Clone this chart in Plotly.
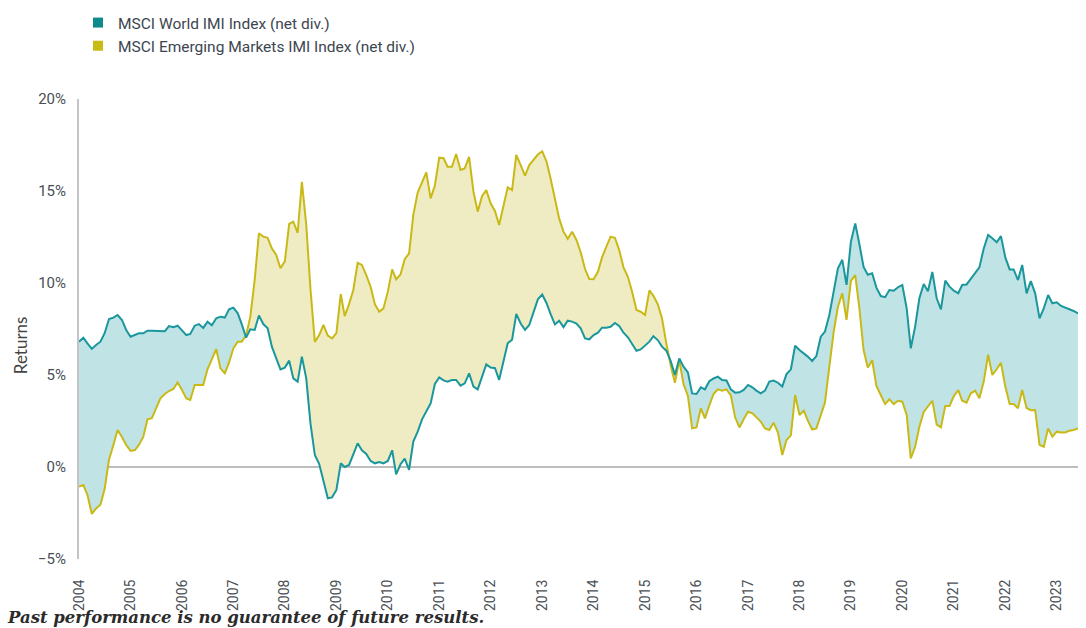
import numpy as np
import pandas as pd
import plotly.graph_objects as go

start_month = "2004-01-01"

world = [
    6.81, 7.03, 6.72, 6.42, 6.63, 6.81, 7.27, 8.04, 8.12, 8.26, 7.99, 7.45,
    7.08, 7.2, 7.27, 7.27, 7.41, 7.41, 7.41, 7.38, 7.38, 7.66, 7.6, 7.68,
    7.45, 7.17, 7.23, 7.68, 7.77, 7.56, 7.9, 7.7, 8.08, 8.17, 8.12, 8.57,
    8.66, 8.35, 7.77, 7.03, 7.48, 7.45, 8.23, 7.77, 7.54, 6.54, 5.9, 5.3,
    5.4, 5.78, 4.82, 4.64, 6.0, 4.82, 2.37, 0.65, 0.16, -0.71, -1.7, -1.65,
    -1.25, 0.2, 0.0, 0.11, 0.65, 1.29, 0.91, 0.71, 0.33, 0.2, 0.27, 0.2,
    0.33, 0.91, -0.4, 0.15, 0.45, -0.15, 1.38, 1.92, 2.59, 3.01, 3.46, 4.51,
    4.87, 4.71, 4.64, 4.73, 4.73, 4.42, 4.55, 5.09, 4.37, 4.22, 4.9, 5.58,
    5.41, 5.37, 4.73, 5.73, 6.72, 6.92, 8.32, 7.8, 7.45, 7.72, 8.48, 9.11,
    9.37, 8.9, 8.32, 7.75, 7.95, 7.6, 7.95, 7.9, 7.8, 7.54, 6.99, 6.94,
    7.17, 7.3, 7.57, 7.57, 7.62, 7.83, 7.66, 7.3, 7.05, 6.69, 6.32, 6.39,
    6.61, 6.81, 7.11, 6.9, 6.54, 6.32, 5.78, 5.0, 5.9, 5.45, 5.14, 4.0,
    3.97, 4.33, 4.22, 4.66, 4.81, 4.91, 4.73, 4.7, 4.22, 4.04, 4.06, 4.19,
    4.46, 4.33, 4.15, 4.0, 4.15, 4.64, 4.7, 4.58, 4.37, 5.05, 5.31, 6.59,
    6.36, 6.18, 6.0, 5.76, 6.03, 7.08, 7.36, 8.26, 9.62, 10.8, 11.26, 9.9,
    12.24, 13.24, 12.16, 10.87, 10.45, 10.53, 9.75, 9.29, 9.23, 9.62, 9.58, 9.77,
    9.89, 8.62, 6.45, 7.63, 9.17, 9.95, 9.55, 10.6, 9.17, 8.57, 10.13, 9.8,
    9.58, 9.44, 9.89, 9.92, 10.22, 10.51, 10.85, 11.88, 12.61, 12.43, 12.21, 12.55,
    11.39, 10.74, 10.74, 10.16, 10.98, 9.44, 10.1, 9.44, 8.08, 8.62, 9.35, 8.9,
    8.95, 8.75, 8.66, 8.6, 8.48, 8.35,
]

emerging = [
    -1.07, -0.98, -1.52, -2.55, -2.25, -2.05, -1.2, 0.4, 1.2, 2.01, 1.63, 1.2,
    0.87, 0.92, 1.2, 1.63, 2.59, 2.65, 3.19, 3.73, 3.97, 4.13, 4.24, 4.6,
    4.18, 3.73, 3.64, 4.46, 4.46, 4.46, 5.31, 5.87, 6.41, 5.36, 5.09, 5.67,
    6.45, 6.81, 6.81, 7.14, 8.17, 10.16, 12.7, 12.52, 12.46, 11.88, 11.53, 10.8,
    11.18, 13.21, 13.33, 12.73, 15.5, 13.17, 9.67, 6.8, 7.17, 7.72, 7.14, 6.99,
    7.28, 9.4, 8.2, 8.85, 9.62, 11.1, 10.98, 10.43, 9.8, 8.85, 8.44, 8.62,
    9.53, 10.74, 10.2, 10.46, 11.29, 11.61, 13.7, 14.91, 15.42, 16.01, 14.6, 15.3,
    16.81, 16.78, 16.32, 16.32, 17.01, 16.14, 16.23, 16.86, 14.96, 13.88, 14.73, 15.05,
    14.33, 13.9, 13.15, 14.15, 15.2, 15.05, 16.96, 16.41, 15.83, 16.41, 16.67, 16.98,
    17.16, 16.59, 15.69, 14.51, 13.51, 12.79, 12.4, 12.79, 12.34, 11.67, 10.76, 10.22,
    10.2, 10.62, 11.38, 11.97, 12.52, 12.46, 11.8, 10.85, 10.34, 9.53, 8.53, 8.44,
    8.26, 9.6, 9.3, 8.85, 8.08, 6.72, 5.54, 4.58, 5.8, 4.5, 3.86, 2.1,
    2.15, 3.19, 2.64, 3.35, 3.97, 4.22, 4.15, 4.22, 3.89, 2.7, 2.15, 2.59,
    3.0, 2.92, 2.7, 2.47, 2.1, 2.01, 2.41, 1.87, 0.65, 1.47, 1.72, 3.91,
    2.83, 3.06, 2.52, 2.04, 2.1, 2.83, 3.5, 5.45, 7.36, 8.71, 9.44, 8.0,
    10.12, 10.43, 8.71, 6.36, 5.4, 5.8, 4.4, 3.91, 3.42, 3.68, 3.42, 3.6,
    3.55, 2.83, 0.47, 1.1, 2.19, 2.99, 3.3, 3.6, 2.3, 2.15, 3.32, 3.32,
    3.86, 4.18, 3.6, 3.49, 4.0, 4.15, 3.73, 4.64, 6.1, 5.0, 5.31, 5.67,
    4.37, 3.42, 3.42, 3.19, 4.19, 3.2, 3.09, 3.1, 1.2, 1.1, 2.1, 1.65,
    1.92, 1.87, 1.88, 1.97, 2.01, 2.1,
]

series_names = ["MSCI World IMI Index (net div.)", "MSCI Emerging Markets IMI Index (net div.)"]
y_ticks = [-5, 0, 5, 10, 15, 20]
y_tick_labels = ["\u22125%", "0%", "5%", "10%", "15%", "20%"]
year_ticks = list(range(2004, 2024))
footnote = "Past performance is no guarantee of future results."
y_title = "Returns"

TEAL = "#1a979c"
TEAL_FILL = "#c0e3e6"
YELLOW = "#c9b917"
YELLOW_FILL = "#efecc3"
TEXT = "#3d4650"

n = len(world)
dates = pd.date_range(start_month, periods=n, freq="MS")
t = dates.astype("int64").to_numpy() / 1e6  # ms
w = np.array(world, dtype=float)
e = np.array(emerging, dtype=float)

# insert crossing points so the two fills meet exactly
X, W, E = [], [], []
for i in range(n):
    X.append(t[i]); W.append(w[i]); E.append(e[i])
    if i < n - 1:
        d0 = w[i] - e[i]
        d1 = w[i + 1] - e[i + 1]
        if d0 * d1 < 0:
            f = d0 / (d0 - d1)
            xc = t[i] + f * (t[i + 1] - t[i])
            yc = w[i] + f * (w[i + 1] - w[i])
            X.append(xc); W.append(yc); E.append(yc)
X = pd.to_datetime(np.array(X), unit="ms")
W = np.array(W); E = np.array(E)
L = np.minimum(W, E)

fig = go.Figure()
fig.add_trace(go.Scatter(x=X, y=L, mode="lines", line=dict(width=0), showlegend=False, hoverinfo="skip"))
fig.add_trace(go.Scatter(x=X, y=W, mode="lines", line=dict(width=0), fill="tonexty",
                         fillcolor=TEAL_FILL, showlegend=False, hoverinfo="skip"))
fig.add_trace(go.Scatter(x=X, y=L, mode="lines", line=dict(width=0), showlegend=False, hoverinfo="skip"))
fig.add_trace(go.Scatter(x=X, y=E, mode="lines", line=dict(width=0), fill="tonexty",
                         fillcolor=YELLOW_FILL, showlegend=False, hoverinfo="skip"))
fig.add_trace(go.Scatter(x=dates, y=emerging, mode="lines", line=dict(color=YELLOW, width=2),
                         showlegend=False, name=series_names[1]))
fig.add_trace(go.Scatter(x=dates, y=world, mode="lines", line=dict(color=TEAL, width=2),
                         showlegend=False, name=series_names[0]))
fig.add_trace(go.Scatter(x=[None], y=[None], mode="markers", name=series_names[0],
                         marker=dict(symbol="square", size=10, color="#0f8a8c")))
fig.add_trace(go.Scatter(x=[None], y=[None], mode="markers", name=series_names[1],
                         marker=dict(symbol="square", size=10, color="#c8bb14")))

font_narrow = "Roboto, Liberation Sans Narrow, sans-serif"

fig.update_layout(
    width=1086, height=628,
    margin=dict(l=79, r=8, t=99, b=69, autoexpand=False),
    paper_bgcolor="white", plot_bgcolor="white",
    showlegend=True,
    legend=dict(x=78 / 1086, y=1 - 6 / 628, xref="container", yref="container",
                xanchor="left", yanchor="top", traceorder="normal",
                font=dict(family=font_narrow, size=15.5, color=TEXT),
                bgcolor="rgba(0,0,0,0)", tracegroupgap=0, itemwidth=30),
    xaxis=dict(
        range=[dates[0], dates[-1]], showgrid=False, zeroline=False, showline=False,
        automargin=False,
        tickmode="array", tickvals=[pd.Timestamp(f"{y}-01-01") for y in year_ticks],
        ticktext=[str(y) for y in year_ticks], tickangle=-90,
        ticks="outside", ticklen=14, tickcolor="rgba(0,0,0,0)",
        tickfont=dict(family=font_narrow, size=14, color="#4a4f55"),
    ),
    yaxis=dict(
        range=[-5, 20], showgrid=False, zeroline=True, zerolinecolor="#bdbdbd", zerolinewidth=1.5,
        showline=True, linecolor="#c4c4c4", linewidth=2, automargin=False,
        tickmode="array", tickvals=y_ticks, ticktext=y_tick_labels,
        ticks="outside", ticklen=8, tickcolor="rgba(0,0,0,0)",
        tickfont=dict(family=font_narrow, size=15, color="#4a4f55"),
    ),
    annotations=[
        dict(text=y_title, xref="paper", yref="paper", x=-0.059, y=0.465, textangle=-90,
             showarrow=False, xanchor="center", yanchor="middle",
             font=dict(family="Lato, Open Sans, sans-serif", size=17, color="#444")),
        dict(text="<b><i>" + footnote + "</i></b>", xref="paper", yref="paper",
             x=-0.074, y=-0.128, xanchor="left", yanchor="middle", showarrow=False,
             font=dict(family="DejaVu Serif, Liberation Serif, serif", size=16.5, color="#2b2b2b")),
    ],
)

fig.write_html("out.html", config={"displayModeBar": False},
               post_script="document.body.style.margin='0';document.body.style.padding='0';")
